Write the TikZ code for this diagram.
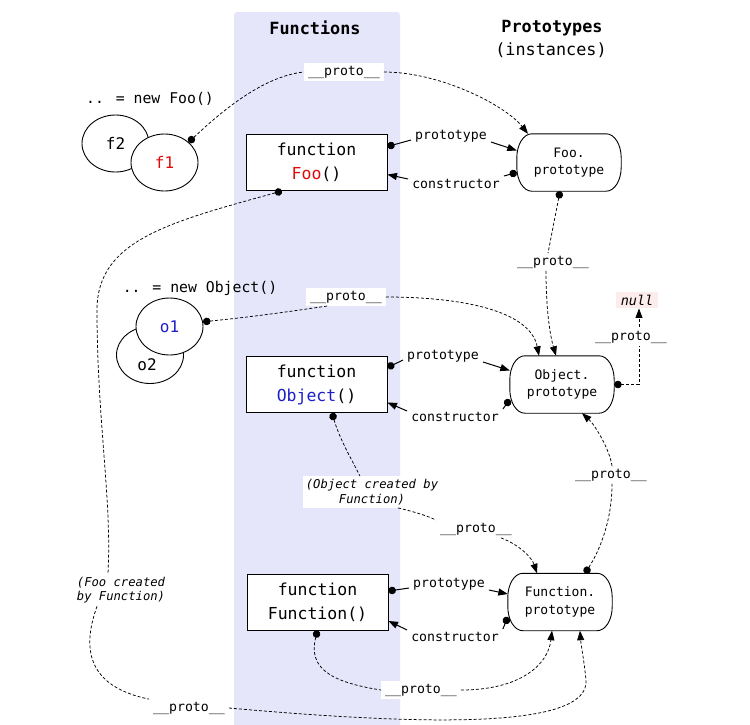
\documentclass[tikz,border=0pt]{standalone}
\usepackage{fontspec}
\setmainfont{DejaVu Sans Mono}
\usetikzlibrary{shapes.geometric,arrows.meta}
\definecolor{band}{RGB}{230,230,250}
\definecolor{fred}{RGB}{225,10,10}
\definecolor{fblue}{RGB}{30,30,200}
\definecolor{nullbg}{RGB}{252,236,236}
\tikzset{
  fbox/.style={draw, line width=0.9pt, fill=white, minimum width=141pt, minimum height=56pt,
    align=center, inner sep=0pt, font=\fontsize{16.5}{24}\selectfont},
  pbox/.style={minimum width=104pt, minimum height=57pt, align=center, inner sep=0pt,
    font=\fontsize{13}{17.5}\selectfont},
  pshape/.style={draw, line width=0.9pt, fill=white},
  ell/.style={draw, ellipse, line width=0.9pt, fill=white, minimum width=67pt, minimum height=57pt,
    inner sep=0pt, font=\fontsize{16}{19}\selectfont},
  ltext/.style={font=\fontsize{16}{19}\selectfont},
  lbl/.style={fill=white, inner xsep=4pt, inner ysep=2.5pt, font=\fontsize{13.2}{16}\selectfont},
  note/.style={fill=white, inner sep=3pt, align=center, font=\fontsize{12.2}{14.5}\selectfont\itshape},
  head/.style={font=\fontsize{16.8}{20}\selectfont\bfseries},
  newtxt/.style={font=\fontsize{14.8}{18}\selectfont},
  dsh/.style={line width=0.75pt, dash pattern=on 3pt off 2pt},
  sld/.style={line width=1pt},
  startdot/.style={{Circle[length=7.5pt]}-},
  endarr/.style={-{Triangle[length=9.5pt,width=7pt]}},
  dotarr/.style={{Circle[length=7.5pt]}-{Triangle[length=9.5pt,width=7pt]}},
}
% outline of a prototype box: straight top/bottom, elliptic ends
\newcommand{\protoshape}[1]{%
  \filldraw[pshape] ([xshift=15pt]#1.north west) -- ([xshift=-15pt]#1.north east)
    arc[start angle=90, end angle=0, x radius=15pt, y radius=24pt]
    -- ([yshift=24pt]#1.south east)
    arc[start angle=0, end angle=-90, x radius=15pt, y radius=24pt]
    -- ([xshift=15pt]#1.south west)
    arc[start angle=270, end angle=180, x radius=15pt, y radius=24pt]
    -- ([yshift=-24pt]#1.north west)
    arc[start angle=180, end angle=90, x radius=15pt, y radius=24pt] -- cycle;}
\begin{document}
\begin{tikzpicture}[x=1pt,y=-1pt]
\useasboundingbox (0,0) rectangle (750,724);
\fill[white] (0,0) rectangle (750,724);
\fill[band, rounded corners=3pt] (234,12) rectangle (400,740);

% headings
\node[head] (hfun) at (315,28) {Functions};
\node[head] (hpro) at (552,28) {Prototypes};
\node[font=\fontsize{16.8}{20}\selectfont] (hinst) at (551,50) {(instances)};

% instances
\node[newtxt] (newfoo) at (150,99) {.. = new Foo()};
\node[ell] (f2) at (115.5,143.5) {f2};
\node[ell] (f1) at (164.5,162.5) {\textcolor{fred}{f1}};
\node[newtxt] (newobj) at (200,288) {.. = new Object()};
\node[ell] (o2) at (150,355) {};
\node[ltext] (o2t) at (147,365) {o2};
\node[ell] (o1) at (169.5,326.5) {\textcolor{fblue}{o1}};

% functions
\node[fbox] (foo) at (316.5,162.5) {function\\\textcolor{fred}{Foo}()};
\node[fbox] (obj) at (316.5,384.5) {function\\\textcolor{fblue}{Object}()};
\node[fbox] (fun) at (317.5,602) {function\\Function()};

% prototypes
\coordinate (foopc) at (569,162.5);
\coordinate (objpc) at (562,384.5);
\coordinate (funpc) at (560,602);
\node[pbox] (foop0) at (foopc) {};
\node[pbox] (objp0) at (objpc) {};
\node[pbox] (funp0) at (funpc) {};
\protoshape{foop0}
\protoshape{objp0}
\protoshape{funp0}
\node[pbox] (foop) at (foopc) {Foo.\\prototype};
\node[pbox] (objp) at (objpc) {Object.\\prototype};
\node[pbox] (funp) at (funpc) {Function.\\prototype};

% null
\node[fill=nullbg, inner xsep=5pt, inner ysep=3pt, font=\fontsize{13.5}{16}\selectfont\itshape] (null) at (637,300) {null};

% labels
\node[lbl] (P1) at (451,136) {prototype};
\node[lbl] (C1) at (456,184) {constructor};
\node[lbl] (P2) at (443,356) {prototype};
\node[lbl] (C2) at (455,417) {constructor};
\node[lbl] (P3) at (449,584) {prototype};
\node[lbl] (C3) at (455,637) {constructor};

\node[lbl] (L1) at (344,72) {\_\_proto\_\_};
\node[lbl] (L2) at (553,262) {\_\_proto\_\_};
\node[lbl] (L3) at (346,297) {\_\_proto\_\_};
\node[lbl] (L5) at (476,529) {\_\_proto\_\_};
\node[lbl] (L6) at (611,475) {\_\_proto\_\_};
\node[lbl] (L7) at (421,690) {\_\_proto\_\_};
\node[lbl] (L8) at (189,708) {\_\_proto\_\_};
\node[note] (N1) at (372,492) {(Object created by\\Function)};
\node[note] (N2) at (121,590) {(Foo created\\by Function)};

% prototype / constructor links
\draw[sld,startdot] ([yshift=16pt]foo.east) -- ([yshift=-4pt]P1.west);
\draw[sld,endarr] ([yshift=-6pt]P1.east) -- ([yshift=12pt]foop.west);
\draw[sld,startdot] ([yshift=-10pt]foop.west) -- ([yshift=8pt]C1.east);
\draw[sld,endarr] ([yshift=5pt]C1.west) -- ([yshift=-12pt]foo.east);

\draw[sld,startdot] ([yshift=17pt]obj.east) -- ([yshift=-4pt]P2.west);
\draw[sld,endarr] ([yshift=-6pt]P2.east) -- ([yshift=14pt]objp.west);
\draw[sld,startdot] ([yshift=-15pt]objp.west) -- ([yshift=8pt]C2.east);
\draw[sld,endarr] ([yshift=6pt]C2.west) -- ([yshift=-18pt]obj.east);

\draw[sld,startdot] ([yshift=11pt]fun.east) -- ([yshift=-4pt]P3.west);
\draw[sld,endarr] ([yshift=-6pt]P3.east) -- ([yshift=8pt]funp.west);
\draw[sld,startdot] ([yshift=-15pt]funp.west) -- ([yshift=8pt]C3.east);
\draw[sld,endarr] ([yshift=7pt]C3.west) -- ([yshift=-19pt]fun.east);

% f1 -> Foo.prototype
\draw[dsh,startdot] (f1.40) .. controls (225,108) and (265,76) .. (L1.west);
\draw[dsh,endarr] (L1.east) .. controls (440,72) and (505,105) .. ([xshift=-41pt]foop.north);

% Foo.prototype -> Object.prototype
\draw[dsh,startdot] ([xshift=-9pt]foop.south) -- ([xshift=-5pt]L2.north);
\draw[dsh,endarr] ([xshift=-7pt]L2.south) .. controls (546,310) and (550,335) .. ([xshift=-6pt]objp.north);

% o1 -> Object.prototype
\draw[dsh,startdot] (o1.8) .. controls (260,316) and (300,310) .. ([xshift=-18pt]L3.south);
\draw[dsh,endarr] (L3.east) .. controls (460,297) and (530,310) .. ([xshift=-23pt]objp.north);

% Object.prototype -> null
\draw[dsh,dotarr] (objp.east) -| ([xshift=2pt]null.south);
\node[lbl] (L4) at (631,337) {\_\_proto\_\_};

% Object() created by Function
\draw[dsh,startdot] ([xshift=15.5pt]obj.south) .. controls (340,440) and (352,460) .. ([xshift=-12pt]N1.north);
\draw[dsh] ([xshift=26pt]N1.south) .. controls (415,512) and (428,516) .. (L5.north west);
\draw[dsh,endarr] ([xshift=25pt]L5.south) .. controls (520,545) and (532,558) .. ([xshift=-23pt]funp.north);

% Function.prototype -> Object.prototype
\draw[dsh,startdot] ([xshift=25pt]funp.north) .. controls (600,550) and (612,520) .. ([xshift=1pt]L6.south);
\draw[dsh,endarr] ([xshift=1pt]L6.north) .. controls (610,450) and (595,425) .. ([xshift=20pt]objp.south);

% Function() -> Function.prototype
\draw[dsh,startdot] (fun.south) .. controls (308,668) and (330,682) .. (L7.west);
\draw[dsh,endarr] (L7.east) .. controls (520,690) and (548,665) .. ([xshift=-8pt]funp.south);

% Foo() -> Function.prototype
\draw[dsh,startdot] ([xshift=-34.5pt]foo.south) .. controls (170,222) and (97,240) .. (97,310)
  .. controls (97,420) and (112,500) .. ([xshift=-13pt]N2.north);
\draw[dsh] ([xshift=-24pt]N2.south) .. controls (85,640) and (80,685) .. (L8.north west);
\draw[dsh,endarr] (L8.east) .. controls (420,725) and (590,730) .. (586,680)
  .. controls (584,660) and (581,645) .. ([xshift=20pt]funp.south);
\end{tikzpicture}
\end{document}
